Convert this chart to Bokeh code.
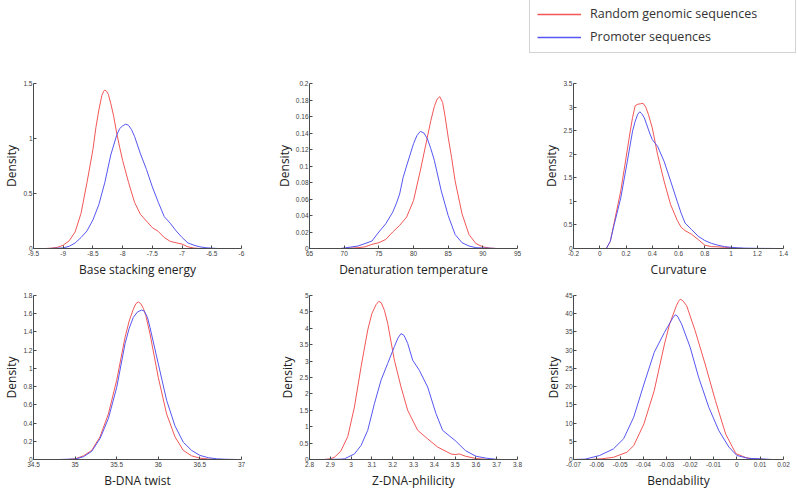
from bokeh.plotting import figure
from bokeh.layouts import column, row
from bokeh.models import Range1d, FixedTicker, CustomJSTickFormatter, Legend, LegendItem
from bokeh.embed import file_html
from bokeh.resources import INLINE

RED = "#f25656"
BLUE = "#5656f2"
SERIES = ["Random genomic sequences", "Promoter sequences"]

# ---- Base stacking energy ----
bse_rand_x = [-9.3, -9.2, -9.1, -9.0, -8.9, -8.8, -8.7, -8.6, -8.55, -8.5, -8.45, -8.4, -8.35, -8.32, -8.3, -8.27, -8.24, -8.2, -8.15, -8.1, -8.05, -8.0, -7.9, -7.8, -7.7, -7.6, -7.5, -7.4, -7.3, -7.2, -7.1, -7.0, -6.9, -6.8, -6.7]
bse_rand_y = [0, 0.003, 0.01, 0.03, 0.07, 0.15, 0.32, 0.6, 0.75, 0.9, 1.1, 1.26, 1.39, 1.43, 1.44, 1.43, 1.4, 1.32, 1.2, 1.05, 0.92, 0.8, 0.6, 0.42, 0.31, 0.25, 0.19, 0.155, 0.1, 0.065, 0.052, 0.04, 0.015, 0.004, 0]
bse_prom_x = [-9.25, -9.0, -8.9, -8.8, -8.7, -8.6, -8.5, -8.4, -8.3, -8.2, -8.1, -8.05, -8.0, -7.95, -7.9, -7.85, -7.8, -7.7, -7.6, -7.5, -7.4, -7.3, -7.2, -7.1, -7.0, -6.9, -6.8, -6.7, -6.6, -6.5, -6.4]
bse_prom_y = [0, 0.005, 0.02, 0.05, 0.1, 0.16, 0.26, 0.4, 0.6, 0.85, 1.03, 1.09, 1.115, 1.13, 1.12, 1.08, 1.02, 0.86, 0.72, 0.56, 0.42, 0.29, 0.23, 0.16, 0.1, 0.05, 0.03, 0.015, 0.007, 0.003, 0]
bse_xticks = [-9.5, -9, -8.5, -8, -7.5, -7, -6.5, -6]
bse_xlabels = ["-9.5", "-9", "-8.5", "-8", "-7.5", "-7", "-6.5", "-6"]
bse_yticks = [0, 0.5, 1, 1.5]
bse_ylabels = ["0", "0.5", "1", "1.5"]

# ---- Denaturation temperature ----
dt_rand_x = [70, 72, 73, 74, 75, 76, 77, 78, 79, 80, 81, 82, 82.5, 83, 83.4, 83.8, 84.2, 84.5, 85, 85.5, 86, 87, 88, 89, 90, 91, 92]
dt_rand_y = [0, 0.001, 0.002, 0.005, 0.007, 0.011, 0.02, 0.028, 0.038, 0.058, 0.095, 0.135, 0.155, 0.172, 0.181, 0.184, 0.177, 0.163, 0.135, 0.11, 0.082, 0.042, 0.017, 0.006, 0.002, 0.0005, 0]
dt_prom_x = [69.5, 72, 74, 75, 76, 77, 77.5, 78, 78.5, 79, 80, 80.5, 81, 81.5, 82, 82.5, 83, 84, 85, 86, 87, 88, 89, 92]
dt_prom_y = [0, 0.003, 0.009, 0.02, 0.03, 0.044, 0.054, 0.066, 0.086, 0.1, 0.127, 0.137, 0.142, 0.14, 0.133, 0.121, 0.107, 0.07, 0.04, 0.017, 0.007, 0.003, 0.001, 0]
dt_xticks = [65, 70, 75, 80, 85, 90, 95]
dt_xlabels = ["65", "70", "75", "80", "85", "90", "95"]
dt_yticks = [0, 0.02, 0.04, 0.06, 0.08, 0.1, 0.12, 0.14, 0.16, 0.18, 0.2]
dt_ylabels = ["0", "0.02", "0.04", "0.06", "0.08", "0.1", "0.12", "0.14", "0.16", "0.18", "0.2"]

# ---- Curvature ----
cu_rand_x = [0.0, 0.05, 0.08, 0.11, 0.16, 0.2, 0.23, 0.25, 0.27, 0.29, 0.31, 0.33, 0.35, 0.37, 0.4, 0.44, 0.49, 0.54, 0.59, 0.62, 0.65, 0.7, 0.75, 0.8, 0.85, 0.9, 0.95, 1.0, 1.05, 1.1]
cu_rand_y = [0, 0, 0.15, 0.55, 1.22, 1.92, 2.45, 2.78, 3.03, 3.06, 3.07, 3.08, 3.0, 2.85, 2.56, 2.0, 1.43, 0.93, 0.6, 0.45, 0.38, 0.3, 0.19, 0.07, 0.04, 0.035, 0.025, 0.015, 0.005, 0]
cu_prom_x = [0.0, 0.05, 0.08, 0.11, 0.16, 0.21, 0.25, 0.27, 0.29, 0.305, 0.32, 0.34, 0.38, 0.4, 0.44, 0.49, 0.54, 0.59, 0.62, 0.65, 0.7, 0.75, 0.8, 0.85, 0.9, 0.95, 1.0, 1.05, 1.1, 1.2, 1.3, 1.37]
cu_prom_y = [0, 0, 0.15, 0.51, 1.07, 1.85, 2.49, 2.7, 2.85, 2.9, 2.86, 2.77, 2.45, 2.31, 2.17, 1.85, 1.43, 1.0, 0.75, 0.54, 0.4, 0.26, 0.17, 0.11, 0.07, 0.04, 0.025, 0.015, 0.008, 0.003, 0.001, 0]
cu_xticks = [-0.2, 0, 0.2, 0.4, 0.6, 0.8, 1.0, 1.2, 1.4]
cu_xlabels = ["-0.2", "0", "0.2", "0.4", "0.6", "0.8", "1", "1.2", "1.4"]
cu_yticks = [0, 0.5, 1, 1.5, 2, 2.5, 3, 3.5]
cu_ylabels = ["0", "0.5", "1", "1.5", "2", "2.5", "3", "3.5"]

# ---- B-DNA twist ----
bt_rand_x = [34.9, 35.0, 35.1, 35.2, 35.3, 35.4, 35.5, 35.6, 35.65, 35.7, 35.73, 35.76, 35.79, 35.82, 35.85, 35.9, 36.0, 36.1, 36.2, 36.3, 36.4, 36.5, 36.6, 36.7]
bt_rand_y = [0, 0.007, 0.04, 0.1, 0.25, 0.5, 0.87, 1.34, 1.52, 1.65, 1.71, 1.73, 1.71, 1.66, 1.58, 1.38, 0.9, 0.5, 0.25, 0.1, 0.04, 0.015, 0.005, 0]
bt_prom_x = [34.8, 35.0, 35.1, 35.2, 35.3, 35.4, 35.5, 35.6, 35.65, 35.7, 35.75, 35.8, 35.83, 35.87, 35.9, 36.0, 36.1, 36.2, 36.3, 36.4, 36.5, 36.6, 36.7, 36.8, 36.95]
bt_prom_y = [0, 0.005, 0.03, 0.09, 0.23, 0.45, 0.79, 1.27, 1.44, 1.56, 1.62, 1.64, 1.63, 1.56, 1.45, 1.05, 0.65, 0.37, 0.19, 0.1, 0.045, 0.02, 0.008, 0.003, 0]
bt_xticks = [34.5, 35, 35.5, 36, 36.5, 37]
bt_xlabels = ["34.5", "35", "35.5", "36", "36.5", "37"]
bt_yticks = [0, 0.2, 0.4, 0.6, 0.8, 1.0, 1.2, 1.4, 1.6, 1.8]
bt_ylabels = ["0", "0.2", "0.4", "0.6", "0.8", "1", "1.2", "1.4", "1.6", "1.8"]

# ---- Z-DNA-philicity ----
zd_rand_x = [2.87, 2.9, 2.92, 2.95, 2.984, 3.016, 3.048, 3.08, 3.1, 3.12, 3.133, 3.145, 3.16, 3.176, 3.208, 3.24, 3.272, 3.32, 3.368, 3.416, 3.48, 3.5, 3.52, 3.55, 3.6, 3.65, 3.7]
zd_rand_y = [0, 0.02, 0.07, 0.25, 0.7, 1.6, 2.83, 3.95, 4.45, 4.72, 4.82, 4.78, 4.55, 4.15, 3.03, 2.21, 1.5, 0.89, 0.63, 0.38, 0.17, 0.15, 0.17, 0.1, 0.03, 0.005, 0]
zd_prom_x = [2.86, 2.95, 2.968, 3.016, 3.048, 3.08, 3.112, 3.144, 3.176, 3.208, 3.225, 3.24, 3.255, 3.272, 3.296, 3.328, 3.368, 3.408, 3.44, 3.48, 3.5, 3.55, 3.6, 3.65, 3.7, 3.72]
zd_prom_y = [0, 0.01, 0.02, 0.17, 0.43, 0.89, 1.7, 2.42, 2.93, 3.44, 3.7, 3.84, 3.78, 3.54, 3.03, 2.72, 2.21, 1.4, 0.89, 0.68, 0.58, 0.27, 0.1, 0.04, 0.005, 0]
zd_xticks = [2.8, 2.9, 3.0, 3.1, 3.2, 3.3, 3.4, 3.5, 3.6, 3.7, 3.8]
zd_xlabels = ["2.8", "2.9", "3", "3.1", "3.2", "3.3", "3.4", "3.5", "3.6", "3.7", "3.8"]
zd_yticks = [0, 0.5, 1, 1.5, 2, 2.5, 3, 3.5, 4, 4.5, 5]
zd_ylabels = ["0", "0.5", "1", "1.5", "2", "2.5", "3", "3.5", "4", "4.5", "5"]

# ---- Bendability ----
bd_rand_x = [-0.063, -0.058, -0.0529, -0.0471, -0.0442, -0.0398, -0.0354, -0.031, -0.0288, -0.0259, -0.025, -0.0242, -0.0232, -0.0215, -0.0179, -0.0136, -0.0092, -0.0048, -0.0004, 0.004, 0.0069, 0.012]
bd_rand_y = [0, 0.2, 0.6, 2.0, 3.8, 9.8, 18.9, 31.7, 37.2, 42.2, 43.4, 44.0, 43.6, 42.2, 35.4, 26.2, 16.2, 7.0, 1.6, 0.5, 0.2, 0]
bd_prom_x = [-0.07, -0.065, -0.0588, -0.0529, -0.0485, -0.0442, -0.0398, -0.0354, -0.031, -0.0281, -0.0275, -0.0264, -0.0255, -0.0237, -0.02, -0.0164, -0.012, -0.0077, -0.0034, 0.0, 0.005, 0.01, 0.015]
bd_prom_y = [0, 0.1, 1.1, 2.9, 5.7, 11.6, 20.7, 29.4, 34.9, 38.1, 38.8, 39.7, 39.4, 37.2, 30.8, 22.6, 14.3, 7.9, 3.4, 1.1, 0.3, 0.2, 0]
bd_xticks = [-0.07, -0.06, -0.05, -0.04, -0.03, -0.02, -0.01, 0, 0.01, 0.02]
bd_xlabels = ["-0.07", "-0.06", "-0.05", "-0.04", "-0.03", "-0.02", "-0.01", "0", "0.01", "0.02"]
bd_yticks = [0, 5, 10, 15, 20, 25, 30, 35, 40, 45]
bd_ylabels = ["0", "5", "10", "15", "20", "25", "30", "35", "40", "45"]

titles = ["Base stacking energy", "Denaturation temperature", "Curvature",
          "B-DNA twist", "Z-DNA-philicity", "Bendability"]
ylabel = "Density"

AX = "#4a4a4a"


def fmt(ticks, labels):
    return CustomJSTickFormatter(args=dict(tl=ticks, lb=labels), code="""
        for (let i = 0; i < tl.length; i++) { if (Math.abs(tl[i] - tick) < 1e-9) return lb[i]; }
        return '';
    """)


def panel(title, rx, ry, px, py, xt, xl, yt, yl, fw, fh, bl, br, bt, bb):
    p = figure(frame_width=fw, frame_height=fh,
               x_range=Range1d(xt[0], xt[-1]), y_range=Range1d(yt[0], yt[-1]),
               output_backend="svg", toolbar_location=None,
               min_border_left=bl, min_border_right=br, min_border_top=bt, min_border_bottom=bb)
    p.grid.visible = False
    p.outline_line_color = None
    p.background_fill_color = "white"
    p.border_fill_color = "white"
    p.line(rx, ry, line_color=RED, line_width=1, line_join="round")
    p.line(px, py, line_color=BLUE, line_width=1, line_join="round")
    p.xaxis.ticker = FixedTicker(ticks=xt)
    p.xaxis.formatter = fmt(xt, xl)
    p.yaxis.ticker = FixedTicker(ticks=yt)
    p.yaxis.formatter = fmt(yt, yl)
    p.xaxis.axis_label = title
    p.yaxis.axis_label = ylabel
    for ax in (p.xaxis[0], p.yaxis[0]):
        ax.axis_line_color = AX
        ax.major_tick_line_color = AX
        ax.major_tick_in = 3
        ax.major_tick_out = 0
        ax.minor_tick_line_color = None
        ax.major_label_text_font = "Liberation Sans"
        ax.major_label_text_font_size = "6.5px"
        ax.major_label_text_color = "#404040"
        ax.axis_label_text_font = "Open Sans"
        ax.axis_label_text_font_size = "12px"
        ax.axis_label_text_font_style = "normal"
        ax.axis_label_text_color = "#222222"
    p.xaxis.major_label_standoff = 2
    p.xaxis.axis_label_standoff = 2
    p.yaxis.major_label_standoff = 1
    p.yaxis.axis_label_standoff = 0
    return p


p1 = panel(titles[0], bse_rand_x, bse_rand_y, bse_prom_x, bse_prom_y, bse_xticks, bse_xlabels, bse_yticks, bse_ylabels, 208, 165, 31, 18, 8, 32)
p2 = panel(titles[1], dt_rand_x, dt_rand_y, dt_prom_x, dt_prom_y, dt_xticks, dt_xlabels, dt_yticks, dt_ylabels, 208, 165, 50, 10, 8, 32)
p3 = panel(titles[2], cu_rand_x, cu_rand_y, cu_prom_x, cu_prom_y, cu_xticks, cu_xlabels, cu_yticks, cu_ylabels, 210, 165, 46, 7, 8, 32)
p4 = panel(titles[3], bt_rand_x, bt_rand_y, bt_prom_x, bt_prom_y, bt_xticks, bt_xlabels, bt_yticks, bt_ylabels, 208, 164, 31, 18, 15, 31)
p5 = panel(titles[4], zd_rand_x, zd_rand_y, zd_prom_x, zd_prom_y, zd_xticks, zd_xlabels, zd_yticks, zd_ylabels, 208, 164, 50, 10, 15, 31)
p6 = panel(titles[5], bd_rand_x, bd_rand_y, bd_prom_x, bd_prom_y, bd_xticks, bd_xlabels, bd_yticks, bd_ylabels, 210, 164, 46, 7, 15, 31)

# legend strip
lg = figure(frame_width=797, frame_height=75, x_range=Range1d(0, 1), y_range=Range1d(0, 1),
            output_backend="svg", toolbar_location=None,
            x_axis_location=None, y_axis_location=None,
            min_border_left=0, min_border_right=0, min_border_top=0, min_border_bottom=0)
lg.grid.visible = False
lg.outline_line_color = None
r_red = lg.line(x=[0, 1], y=[-5, -5], line_color=RED, line_width=1.5)
r_blue = lg.line(x=[0, 1], y=[-5, -5], line_color=BLUE, line_width=1.5)
leg = Legend(items=[LegendItem(label=SERIES[0], renderers=[r_red]),
                    LegendItem(label=SERIES[1], renderers=[r_blue])],
             location=(529, 22), orientation="vertical",
             glyph_width=44, glyph_height=16, label_height=16, label_width=198,
             label_standoff=9, padding=7, spacing=6, margin=0,
             border_line_color="#a8a8a8", border_line_width=1,
             background_fill_color="white", background_fill_alpha=1,
             label_text_font="Open Sans", label_text_font_size="12.5px",
             label_text_color="#333333")
lg.add_layout(leg, "center")

layout = column(lg, row(p1, p2, p3), row(p4, p5, p6))
open("out.html", "w").write(file_html(layout, INLINE))
